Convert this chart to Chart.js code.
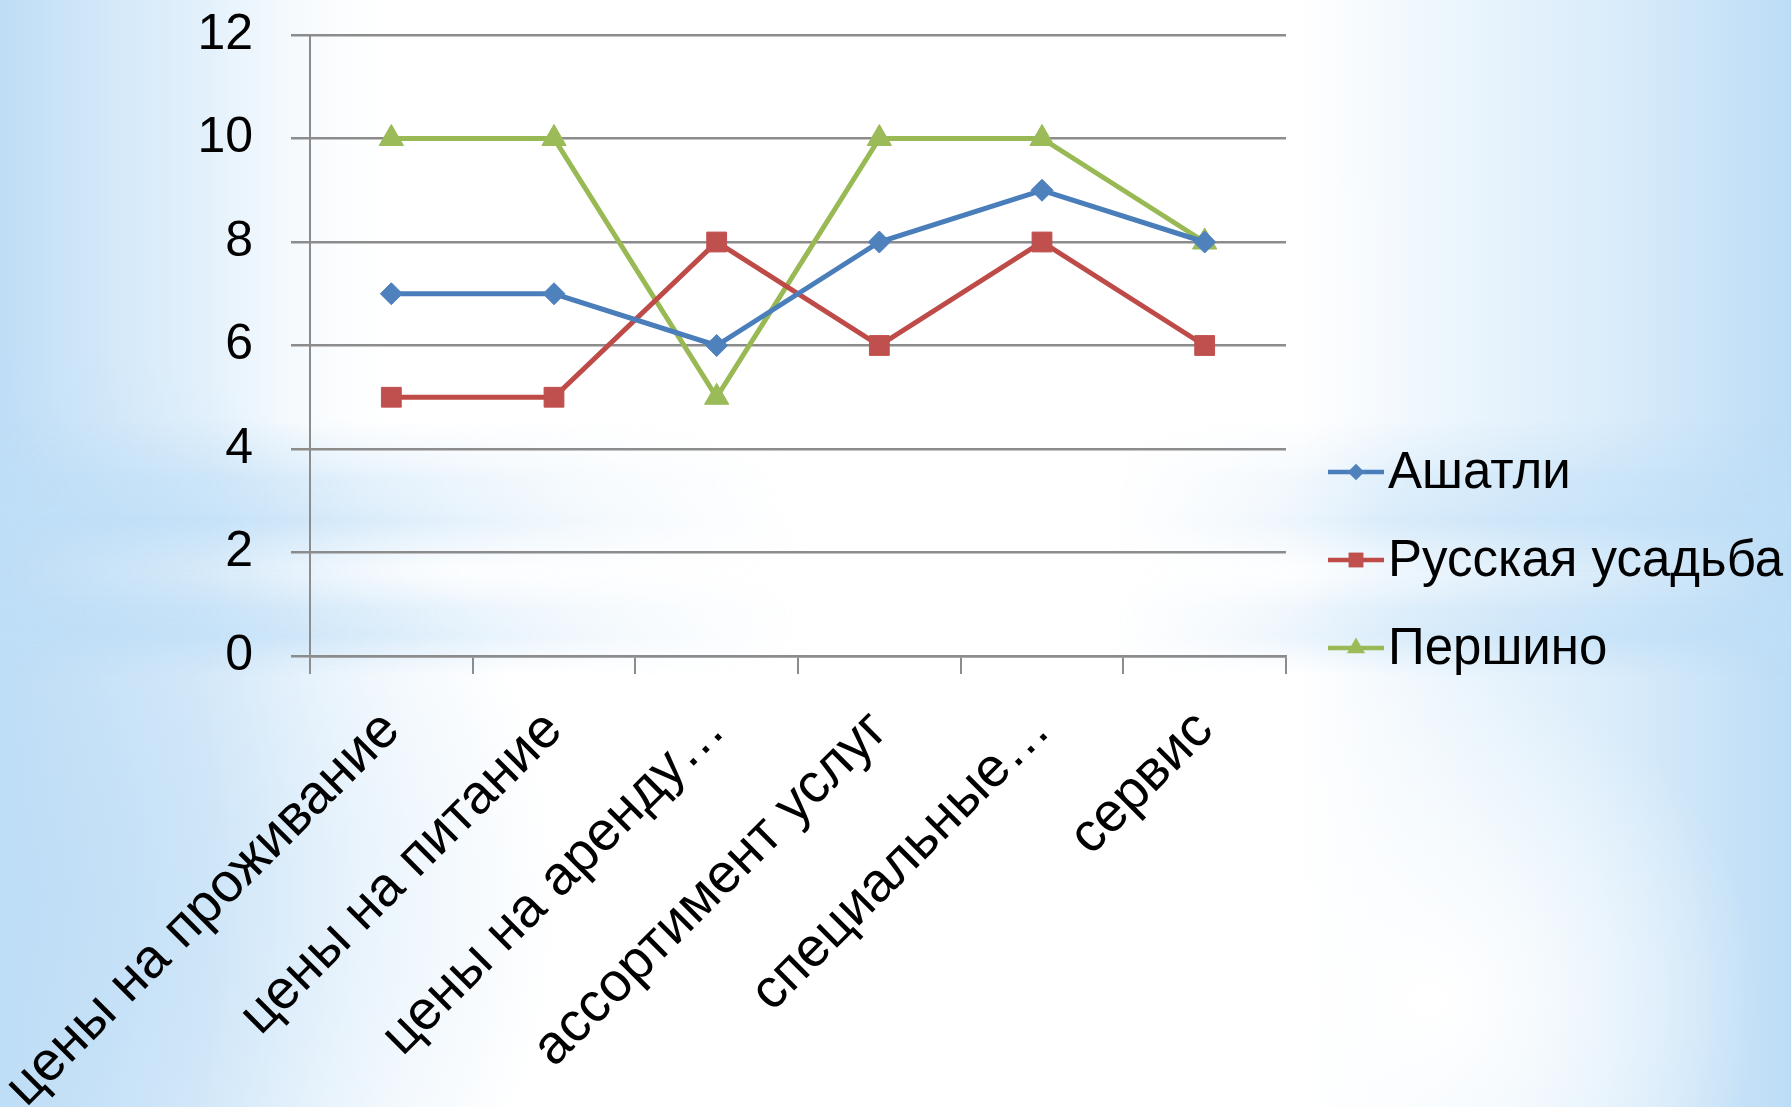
<!DOCTYPE html>
<html>
<head>
<meta charset="utf-8">
<script src="https://cdn.jsdelivr.net/npm/chart.js@4.4.1/dist/chart.umd.min.js"></script>
<style>
  html, body { margin: 0; padding: 0; background: #fff; }
  #wrap { position: relative; width: 1791px; height: 1107px; }
</style>
</head>
<body>
<div id="wrap"><canvas id="c" width="1791" height="1107"></canvas></div>
<script>
const categories = ["цены на проживание", "цены на питание", "цены на аренду…", "ассортимент услуг", "специальные…", "сервис"];
const seriesNames = ["Ашатли", "Русская усадьба", "Першино"];
const ashatli = [7, 7, 6, 8, 9, 8];
const russkayaUsadba = [5, 5, 8, 6, 8, 6];
const pershino = [10, 10, 5, 10, 10, 8];
const yMin = 0, yMax = 12, yStep = 2;

const FONT = "'Liberation Sans', Arial, sans-serif";
const FS_Y = 50, FS_X = 55, FS_L = 51;

const styles = [
  { line: '#4a7ebb', fill: '#4f81bd', pointStyle: 'rectRot', r: 11 },
  { line: '#be4b48', fill: '#c0504d', pointStyle: 'rect', r: 14 },
  { line: '#98b954', fill: '#9bbb59', pointStyle: 'triangle', r: 14 }
];
const values = [ashatli, russkayaUsadba, pershino];

const bgPlugin = {
  id: 'bg',
  beforeDraw(chart) {
    const ctx = chart.ctx, W = chart.width, H = chart.height;
    ctx.save();
    ctx.fillStyle = '#ffffff';
    ctx.fillRect(0, 0, W, H);
    let g = ctx.createLinearGradient(0, 0, 420, 0);
    g.addColorStop(0, 'rgba(190,221,246,1)');
    g.addColorStop(0.5, 'rgba(218,236,250,0.75)');
    g.addColorStop(1, 'rgba(255,255,255,0)');
    ctx.fillStyle = g; ctx.fillRect(0, 0, 420, H);
    let rg = ctx.createRadialGradient(0, 900, 0, 0, 900, 560);
    rg.addColorStop(0, 'rgba(190,221,246,0.9)');
    rg.addColorStop(1, 'rgba(190,221,246,0)');
    ctx.fillStyle = rg; ctx.fillRect(0, 300, 600, 807);
    g = ctx.createLinearGradient(1300, 0, W, 0);
    g.addColorStop(0, 'rgba(200,228,248,0)');
    g.addColorStop(0.6, 'rgba(205,230,249,0.7)');
    g.addColorStop(1, 'rgba(188,220,246,1)');
    ctx.fillStyle = g; ctx.fillRect(1300, 0, W - 1300, H);
    rg = ctx.createRadialGradient(1430, 1000, 0, 1430, 1000, 330);
    rg.addColorStop(0, 'rgba(255,255,255,1)');
    rg.addColorStop(1, 'rgba(255,255,255,0)');
    ctx.fillStyle = rg; ctx.fillRect(1050, 640, 750, 467);
    const m = document.createElement('canvas');
    m.width = W; m.height = H;
    const mc = m.getContext('2d');
    function band(y, h, alpha) {
      const gv = mc.createLinearGradient(0, y - h, 0, y + h);
      gv.addColorStop(0, 'rgba(190,222,247,0)');
      gv.addColorStop(0.5, 'rgba(190,222,247,' + alpha + ')');
      gv.addColorStop(1, 'rgba(190,222,247,0)');
      mc.fillStyle = gv;
      mc.fillRect(0, y - h, W, 2 * h);
    }
    band(520, 55, 0.9);
    band(635, 40, 0.8);
    band(480, 60, 0.6);
    band(610, 45, 0.6);
    mc.globalCompositeOperation = 'destination-in';
    let gh = mc.createLinearGradient(0, 0, W, 0);
    gh.addColorStop(0, 'rgba(0,0,0,1)');
    gh.addColorStop(0.12, 'rgba(0,0,0,0.8)');
    gh.addColorStop(0.3, 'rgba(0,0,0,0.35)');
    gh.addColorStop(0.45, 'rgba(0,0,0,0)');
    gh.addColorStop(0.62, 'rgba(0,0,0,0)');
    gh.addColorStop(0.78, 'rgba(0,0,0,0.55)');
    gh.addColorStop(1, 'rgba(0,0,0,0.9)');
    mc.fillStyle = gh; mc.fillRect(0, 0, W, H);
    ctx.drawImage(m, 0, 0);
    rg = ctx.createRadialGradient(900, 320, 0, 900, 320, 520);
    rg.addColorStop(0, 'rgba(255,255,255,0.9)');
    rg.addColorStop(1, 'rgba(255,255,255,0)');
    ctx.fillStyle = rg; ctx.fillRect(300, 0, 1200, 900);
    ctx.restore();
  }
};

const legendPlugin = {
  id: 'customLegend',
  afterDraw(chart) {
    const ctx = chart.ctx;
    const ys = [472, 560, 648];
    ctx.save();
    seriesNames.forEach((name, i) => {
      const s = styles[i];
      const y = ys[i];
      ctx.strokeStyle = s.line;
      ctx.lineWidth = 4.5;
      ctx.beginPath();
      ctx.moveTo(1328, y); ctx.lineTo(1384, y);
      ctx.stroke();
      ctx.fillStyle = s.fill;
      ctx.strokeStyle = s.fill;
      ctx.lineWidth = 1;
      Chart.helpers.drawPoint(ctx, { pointStyle: s.pointStyle, radius: s.r * 0.75, rotation: 0 }, 1356, y);
      ctx.fillStyle = '#000';
      ctx.font = FS_L + 'px ' + FONT;
      ctx.textBaseline = 'middle';
      ctx.textAlign = 'left';
      ctx.fillText(name, 1388, y + 2);
    });
    ctx.restore();
  }
};

const datasets = seriesNames.map((name, i) => ({
  label: name,
  data: values[i],
  borderColor: styles[i].line,
  backgroundColor: styles[i].fill,
  pointBackgroundColor: styles[i].fill,
  pointBorderColor: styles[i].fill,
  pointBorderWidth: 1,
  pointStyle: styles[i].pointStyle,
  pointRadius: styles[i].r,
  pointHoverRadius: styles[i].r,
  borderWidth: 5,
  tension: 0,
  fill: false
}));

new Chart(document.getElementById('c'), {
  type: 'line',
  data: { labels: categories, datasets },
  plugins: [bgPlugin, legendPlugin],
  options: {
    responsive: false,
    devicePixelRatio: 1,
    animation: false,
    layout: { padding: { left: 0, top: 35, right: 505, bottom: 0 } },
    plugins: { legend: { display: false }, tooltip: { enabled: false } },
    scales: {
      x: {
        offset: true,
        grid: { offset: true, drawOnChartArea: false, drawTicks: true, tickLength: 18, color: '#8c8c8c', lineWidth: 2 },
        border: { display: true, color: '#8c8c8c', width: 2.5 },
        ticks: { autoSkip: false, minRotation: 45, maxRotation: 45, padding: 24, color: '#000', font: { family: FONT, size: FS_X } },
        afterFit(scale) { scale.height = 451; scale.paddingLeft = 0; scale.paddingRight = 0; }
      },
      y: {
        min: yMin, max: yMax,
        grid: { color: '#8c8c8c', lineWidth: 2.5, tickLength: 19 },
        border: { display: true, color: '#8c8c8c', width: 2 },
        ticks: { stepSize: yStep, padding: 38, color: '#000', font: { family: FONT, size: FS_Y } },
        afterFit(scale) { scale.width = 310; scale.paddingTop = 0; scale.paddingBottom = 0; }
      }
    }
  }
});
</script>
</body>
</html>
